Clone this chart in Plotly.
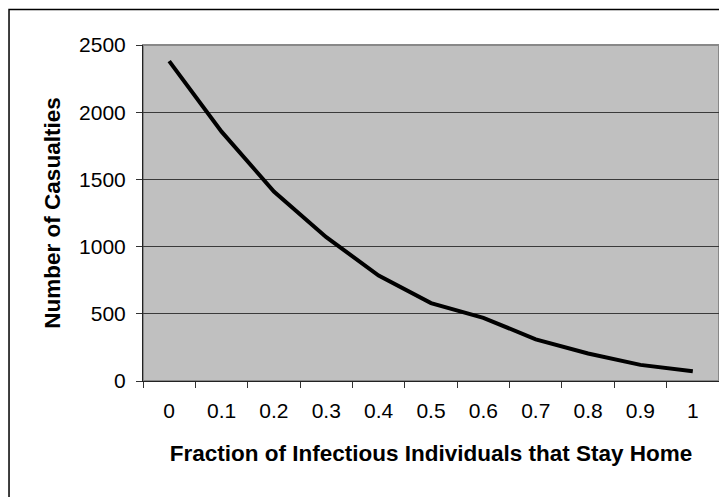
import plotly.graph_objects as go

# fraction of infectious individuals that stay home (category labels)
fraccion = ["0", "0.1", "0.2", "0.3", "0.4", "0.5", "0.6", "0.7", "0.8", "0.9", "1"]
# number of casualties
casualties = [2380, 1855, 1410, 1070, 785, 580, 470, 310, 205, 120, 72]

fuente = "Arial, Liberation Sans, sans-serif"

# the page adds an 8px body margin, so margins are shifted by that much
fig = go.Figure(layout=go.Layout(
    autosize=False,
    width=727,
    height=497,
    margin=dict(l=135, r=16, t=37, b=124),
    paper_bgcolor="white",
    plot_bgcolor="#C0C0C0",
    showlegend=False,
    font=dict(family=fuente, color="black"))
)

fig.add_trace(go.Scatter(x=fraccion, y=casualties,
                         mode="lines",
                         line=dict(color="black", width=4),
                         name="casualties"))

fig.update_xaxes(type="category",
                 range=[-0.5, 10.5],
                 automargin=False,
                 tickson="boundaries",
                 ticks="outside", ticklen=6, tickcolor="#333333",
                 showgrid=False, zeroline=False,
                 showline=True, linecolor="#222222", linewidth=1,
                 tickfont=dict(size=21),
                 ticklabelstandoff=11,
                 title=dict(text="<b>Fraction of Infectious Individuals that Stay Home</b>",
                            font=dict(size=22.5), standoff=24))

fig.update_yaxes(range=[0, 2500], dtick=500,
                 automargin=False,
                 ticks="outside", ticklen=6, tickcolor="#333333",
                 showgrid=True, gridcolor="#3a3a3a", gridwidth=1,
                 zeroline=False,
                 showline=True, linecolor="#222222", linewidth=1,
                 tickfont=dict(size=21),
                 ticklabelstandoff=6,
                 title=dict(text="<b>Number of Casualties</b>",
                            font=dict(size=22.5), standoff=12))

# gray frame around the plot area (top / right)
fig.add_shape(type="rect", xref="paper", yref="paper",
              x0=0, x1=1, y0=0, y1=1,
              line=dict(color="#888888", width=2), layer="below")

# outer chart border (only top and left are inside the picture)
fig.add_shape(type="rect", xref="paper", yref="paper",
              x0=-0.2326, x1=1.03, y0=-0.38, y1=1.106,
              line=dict(color="black", width=1.5), layer="above")

fig.write_html("out.html")
